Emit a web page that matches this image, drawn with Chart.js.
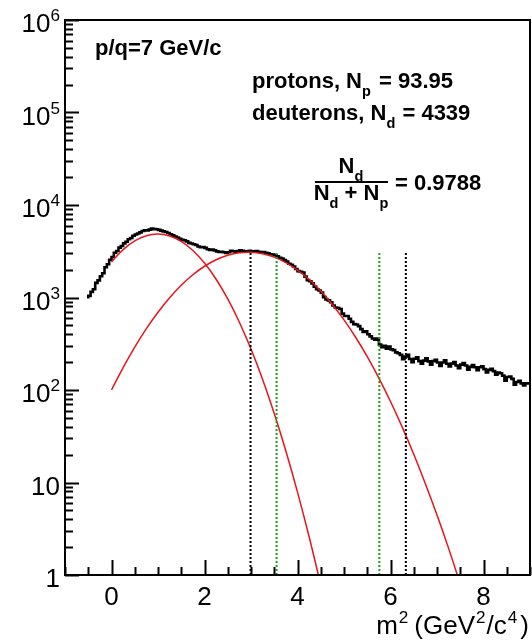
<!DOCTYPE html>
<html lang="en">
<head>
  <meta charset="UTF-8" />
  <title>m2 spectrum, p/q=7 GeV/c</title>
  <script src="https://cdn.jsdelivr.net/npm/chart.js"></script>
  <style>
    body { margin: 0; background: #fff; }
    #wrap { width: 532px; height: 643px; }
  </style>
</head>
<body>
  <div id="wrap"><canvas id="m2Chart" width="532" height="643"></canvas></div>
  <script>
    // measured m2 histogram, 0.05 wide bins starting at -0.5
    const binLow = -0.5;
    const binWidth = 0.05;
    const counts = [
      975, 1040, 1150, 1230, 1440, 1530, 1700, 1830, 2120, 2290,
      2560, 2740, 3050, 3180, 3460, 3600, 3850, 4000, 4260, 4400, 4650, 4790, 4920, 5060, 5230, 5330, 5300, 5420, 5560, 5480,
      5470, 5380, 5280, 5190, 5100, 4990, 4830, 4700, 4560, 4440, 4300, 4200, 4160, 4040, 3900, 3830, 3770, 3700, 3560, 3500,
      3510, 3440, 3320, 3260, 3290, 3230, 3150, 3110, 3120, 3080, 3040, 3080, 3200, 3160, 3130, 3170, 3240, 3200, 3120, 3160,
      3200, 3160, 3130, 3170, 3110, 3090, 3100, 3040, 3000, 2940, 2920, 2860, 2790, 2690, 2640, 2540, 2440, 2320, 2260, 2160,
      2030, 1930, 1900, 1860, 1680, 1540, 1500, 1420, 1310, 1230, 1190, 1130, 1010, 950, 930, 890, 820, 780, 770, 750,
      670, 630, 630, 590, 545, 515, 510, 490, 455, 425, 430, 400, 380, 360, 350, 360, 310, 290, 300, 280,
      295, 275, 270, 255, 250, 240, 215, 230, 240, 216, 200, 218, 225, 205, 192, 208, 220, 204, 188, 205,
      212, 198, 182, 198, 210, 192, 180, 193, 200, 184, 172, 188, 196, 184, 166, 178, 186, 176, 164, 176,
      180, 168, 155, 165, 170, 160, 146, 154, 152, 143, 126, 138, 140, 132, 114, 122, 126, 118, 112, 118
    ];

    // gaussian fits (red)
    const protonX = [0, 0.25, 0.5, 0.75, 1, 1.25, 1.5, 1.75, 2, 2.25, 2.5, 2.75, 3, 3.25, 3.5, 3.75, 4, 4.25, 4.5];
    const protonFit = [2420, 3290, 4090, 4660, 4850, 4630, 4040, 3220, 2355, 1574, 964, 540, 277, 130, 55.7, 21.9, 7.87, 2.59, 0.78];
    const deuteronX = [0, 0.25, 0.5, 0.75, 1, 1.25, 1.5, 1.75, 2, 2.25, 2.5, 2.75, 3, 3.25, 3.5, 3.75, 4, 4.25, 4.5, 4.75, 5, 5.25, 5.5, 5.75, 6, 6.25, 6.5, 6.75, 7, 7.25, 7.5];
    const deuteronFit = [100, 175, 291, 461, 694, 995, 1357, 1762, 2177, 2558, 2862, 3046, 3086, 2975, 2729, 2382, 1979, 1564, 1176, 842, 573, 372, 229, 134.5, 75.1, 39.9, 20.2, 9.71, 4.45, 1.94, 0.80];

    // selection windows
    const cutLines = [2.99, 3.55, 5.76, 6.33];
    const cutColors = ['#000000', '#1f9e1f', '#1f9e1f', '#000000'];
    const cutTop = 3100;

    const xTicks = [0, 2, 4, 6, 8];
    const yTickLabels = [['1', ''], ['10', ''], ['10', '2'], ['10', '3'], ['10', '4'], ['10', '5'], ['10', '6']];

    const FONT = "'Liberation Sans', Arial, Helvetica, sans-serif";

    const histPoints = counts.map((c, i) => ({ x: binLow + i * binWidth, y: c }));
    histPoints.push({ x: binLow + counts.length * binWidth, y: counts[counts.length - 1] });

    const datasets = [];
    cutLines.forEach((xv, i) => {
      datasets.push({
        data: [{ x: xv, y: 1 }, { x: xv, y: cutTop }],
        borderColor: cutColors[i],
        borderWidth: 2,
        borderDash: [2, 2],
        pointRadius: 0,
        order: 0
      });
    });
    datasets.push({
      data: protonX.map((x, i) => ({ x: x, y: protonFit[i] })),
      borderColor: '#e8141c', borderWidth: 1.5, pointRadius: 0, tension: 0.4, order: 1
    });
    datasets.push({
      data: deuteronX.map((x, i) => ({ x: x, y: deuteronFit[i] })),
      borderColor: '#e8141c', borderWidth: 1.5, pointRadius: 0, tension: 0.4, order: 1
    });
    datasets.push({
      data: histPoints,
      borderColor: '#000000', borderWidth: 2.6, pointRadius: 0, stepped: 'after', order: 2
    });

    // text with sub/superscripts: parts = [[text, 'n'|'sub'|'sup', extra gap], ...]
    function richWidth(ctx, parts, size, weight) {
      let w = 0;
      parts.forEach(p => {
        const s = p[1] === 'n' ? size : size * 0.66;
        ctx.font = weight + ' ' + s + 'px ' + FONT;
        w += ctx.measureText(p[0]).width + (p[2] || 0);
      });
      return w;
    }
    function drawRich(ctx, parts, x, y, size, weight, align) {
      const w = richWidth(ctx, parts, size, weight);
      let cx = align === 'right' ? x - w : align === 'center' ? x - w / 2 : x;
      ctx.textAlign = 'left';
      ctx.textBaseline = 'alphabetic';
      parts.forEach(p => {
        const s = p[1] === 'n' ? size : size * 0.66;
        const dy = p[1] === 'sub' ? size * 0.36 : p[1] === 'sup' ? -size * 0.42 : 0;
        ctx.font = weight + ' ' + s + 'px ' + FONT;
        ctx.fillText(p[0], cx, y + dy);
        cx += ctx.measureText(p[0]).width + (p[2] || 0);
      });
    }

    const rootFrame = {
      id: 'rootFrame',
      afterDraw(chart) {
        const ctx = chart.ctx;
        const a = chart.chartArea;
        const xs = chart.scales.x;
        const ys = chart.scales.y;
        ctx.save();
        ctx.fillStyle = '#000';
        ctx.strokeStyle = '#000';

        // frame
        ctx.lineWidth = 2;
        ctx.strokeRect(a.left, a.top, a.right - a.left, a.bottom - a.top);

        // y ticks (log)
        ctx.beginPath();
        for (let e = 0; e <= 6; e++) {
          for (let m = 1; m <= 9; m++) {
            const v = m * Math.pow(10, e);
            if (v > 1e6) break;
            const py = Math.round(ys.getPixelForValue(v)) + 0.5;
            const len = m === 1 ? 14 : 8;
            ctx.moveTo(a.left, py);
            ctx.lineTo(a.left + len, py);
          }
        }
        // x ticks
        for (let v = -1; v <= 9.001; v += 0.5) {
          const px = Math.round(xs.getPixelForValue(v)) + 0.5;
          const len = xTicks.includes(v) ? 15 : 8;
          ctx.moveTo(px, a.bottom);
          ctx.lineTo(px, a.bottom - len);
        }
        ctx.stroke();

        // y labels
        yTickLabels.forEach((lab, e) => {
          const py = ys.getPixelForValue(Math.pow(10, e));
          const parts = [[lab[0], 'n']];
          if (lab[1]) parts.push([lab[1], 'sup']);
          drawRich(ctx, parts, 60, py + 12, 26, 'normal', 'right');
        });
        // x labels
        xTicks.forEach(v => {
          drawRich(ctx, [[String(v), 'n']], xs.getPixelForValue(v), 605, 26, 'normal', 'center');
        });
        // axis title
        drawRich(ctx, [['m', 'n', 1], ['2', 'sup', 6], ['(GeV', 'n', 1], ['2', 'sup', 1], ['/c', 'n', 1], ['4', 'sup', 3], [')', 'n']],
          529, 634, 26, 'normal', 'right');

        // annotations
        drawRich(ctx, [['p/q=7 GeV/c', 'n']], 95, 55, 22, 'bold', 'left');
        drawRich(ctx, [['protons, N', 'n'], ['p', 'sub', 2], [' = 93.95', 'n']], 252, 88, 22, 'bold', 'left');
        drawRich(ctx, [['deuterons, N', 'n'], ['d', 'sub', 1], [' = 4339', 'n']], 252, 120, 22, 'bold', 'left');
        drawRich(ctx, [['N', 'n'], ['d', 'sub']], 351, 173, 22, 'bold', 'center');
        ctx.fillRect(315, 181, 73, 2);
        drawRich(ctx, [['N', 'n'], ['d', 'sub'], [' + N', 'n'], ['p', 'sub']], 351, 200, 22, 'bold', 'center');
        drawRich(ctx, [['= 0.9788', 'n']], 395, 190, 22, 'bold', 'left');
        ctx.restore();
      }
    };

    new Chart(document.getElementById('m2Chart').getContext('2d'), {
      type: 'line',
      data: { datasets: datasets },
      options: {
        responsive: false,
        animation: false,
        layout: { padding: { left: 0, right: 2, top: 20, bottom: 0 } },
        scales: {
          x: {
            type: 'linear', min: -1, max: 9,
            ticks: { display: false },
            grid: { display: false },
            border: { display: false },
            afterFit: s => { s.height = 68; }
          },
          y: {
            type: 'logarithmic', min: 1, max: 1e6,
            ticks: { display: false },
            grid: { display: false },
            border: { display: false },
            afterFit: s => { s.width = 65; }
          }
        },
        plugins: { legend: { display: false }, tooltip: { enabled: false } }
      },
      plugins: [rootFrame]
    });
  </script>
</body>
</html>
